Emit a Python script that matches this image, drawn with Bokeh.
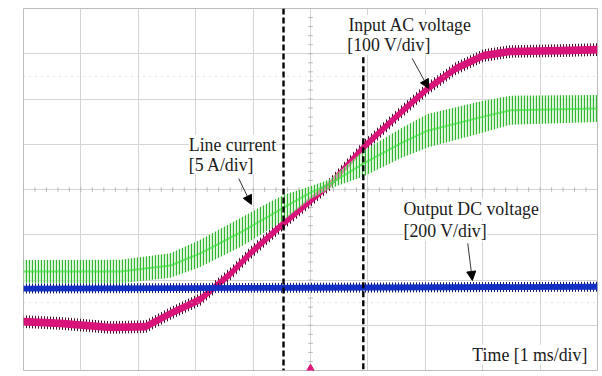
import numpy as np
from bokeh.plotting import figure
from bokeh.models import Label, Arrow, NormalHead, FixedTicker, Range1d, Span
from bokeh.embed import file_html
from bokeh.resources import INLINE

# ---- data (time in ms, level in divisions, 0 = centre line) ----
pink_t = [0, 0.64, 1.52, 2.13, 2.56, 3.08, 3.61, 3.95, 4.53, 5.35, 5.92, 6.57, 7.04, 7.53, 8.01, 8.48, 9.36, 10]
pink_v = [-2.92, -2.96, -3.05, -3.03, -2.74, -2.43, -1.86, -1.41, -0.75, 0.13, 0.93, 1.70, 2.23, 2.67, 2.96, 3.05, 3.07, 3.09]

green_t = [0, 1.69, 2.56, 3.08, 3.78, 4.30, 4.53, 5.0, 5.35, 5.92, 6.57, 7.04, 8.01, 8.48, 10]
green_v = [-1.81, -1.81, -1.68, -1.41, -0.95, -0.57, -0.40, -0.07, 0.13, 0.57, 1.02, 1.30, 1.61, 1.75, 1.79]
green_ripple = [0.25, 0.26, 0.27, 0.30, 0.32, 0.30, 0.28, 0.14, 0.10, 0.28, 0.33, 0.37, 0.35, 0.32, 0.30]

blue_t = [0, 5, 10]
blue_v = [-2.19, -2.17, -2.15]

cursor_x = [4.53, 5.92]
cursor_top = [4.0, 2.92]
dotted_levels = [2.5, -2.5]

labels_text = ["Input AC voltage", "[100 V/div]", "Line current", "[5 A/div]",
               "Output DC voltage", "[200 V/div]", "Time [1 ms/div]"]

pink_t = np.array(pink_t); pink_v = np.array(pink_v)
green_t = np.array(green_t); green_v = np.array(green_v); green_ripple = np.array(green_ripple)
blue_t = np.array(blue_t); blue_v = np.array(blue_v)

p = figure(width=602, height=376, x_range=Range1d(0, 10), y_range=Range1d(-4, 4),
           output_backend="svg", toolbar_location=None,
           min_border_left=23, min_border_right=5, min_border_top=8, min_border_bottom=6)
p.xaxis.visible = False
p.yaxis.visible = False
p.xgrid.ticker = FixedTicker(ticks=list(range(0, 11)))
p.ygrid.ticker = FixedTicker(ticks=list(range(-4, 5)))
p.grid.grid_line_color = "#d4d4d4"
p.grid.grid_line_width = 1
p.outline_line_color = "#bdbdbd"
p.background_fill_color = "white"
p.border_fill_color = "white"

# dotted cursor levels
for lv in dotted_levels:
    p.add_layout(Span(location=lv, dimension="width", line_color="#c4c4c4",
                      line_dash="1 5", line_width=1))

# centre-line tick marks
tx = np.arange(0, 10.001, 0.2)
p.segment(x0=tx, y0=-0.05, x1=tx, y1=0.05, line_color="#b8b8b8", line_width=1)
ty = np.arange(-4, 4.001, 0.2)
p.segment(x0=4.96, y0=ty, x1=5.04, y1=ty, line_color="#b8b8b8", line_width=1)

# pink: input AC voltage
p.varea(x=pink_t, y1=pink_v - 0.14, y2=pink_v + 0.14, fill_alpha=0,
        hatch_pattern="|", hatch_color="#4a0c2c", hatch_scale=3, hatch_weight=1)
p.varea(x=pink_t, y1=pink_v - 0.085, y2=pink_v + 0.085, fill_color="#d8137a")

# green: line current
p.varea(x=green_t, y1=green_v - green_ripple, y2=green_v + green_ripple,
        fill_color="#d4f2cf", fill_alpha=0.6,
        hatch_pattern="|", hatch_color="#2fb82f", hatch_scale=3, hatch_weight=1.2)
p.line(green_t, green_v, line_color="#3ede3e", line_width=2, line_alpha=0.7)

# blue: output DC voltage
p.varea(x=blue_t, y1=blue_v - 0.11, y2=blue_v + 0.11, fill_alpha=0,
        hatch_pattern="|", hatch_color="#0a1470", hatch_scale=3, hatch_weight=1)
p.varea(x=blue_t, y1=blue_v - 0.065, y2=blue_v + 0.065, fill_color="#1430c4")

# dashed cursors
p.segment(x0=cursor_x, y0=cursor_top, x1=cursor_x, y1=[-4, -4],
          line_color="black", line_width=2.4, line_dash="6 3")

# trigger marker
p.scatter([5], [-4], marker="triangle", size=11, fill_color="#e0147a", line_color="#e0147a")

# channel markers
p.add_layout(Label(x=-0.17, y=0.04, text="C2", text_font="DejaVu Sans",
                   text_font_size="7px", text_color="#e0147a", text_baseline="bottom"))
p.add_layout(Label(x=-0.15, y=-0.02, text="▬", text_font="DejaVu Sans",
                   text_font_size="8px", text_color="#e0147a", text_baseline="middle"))
p.add_layout(Label(x=-0.17, y=-3.86, text="C1", text_font="DejaVu Sans",
                   text_font_size="7px", text_color="#2030c0", text_baseline="bottom"))
p.add_layout(Label(x=-0.15, y=-3.97, text="▬", text_font="DejaVu Sans",
                   text_font_size="8px", text_color="#2030c0", text_baseline="middle"))

# text labels (baseline positions)
label_pos = [(5.66, 3.64), (5.64, 3.20), (2.88, 0.99), (2.88, 0.55),
             (6.62, -0.42), (6.62, -0.91), (7.82, -3.65)]
for txt, (lx, ly) in zip(labels_text, label_pos):
    p.add_layout(Label(x=lx, y=ly, text=txt, text_font="Liberation Serif",
                       text_font_size="17.8px", text_color="#1a1a1a",
                       text_baseline="alphabetic",
                       background_fill_color="white", background_fill_alpha=1.0))

# arrows
arrows = [((6.77, 2.90), (7.06, 2.23)), ((3.75, 0.24), (3.97, -0.33)), ((7.74, -1.19), (7.82, -2.01))]
for (xs, ys), (xe, ye) in arrows:
    p.add_layout(Arrow(end=NormalHead(size=9, fill_color="black", line_color="black"),
                       x_start=xs, y_start=ys, x_end=xe, y_end=ye,
                       line_color="#333333", line_width=1))

open("out.html", "w").write(file_html(p, INLINE))
